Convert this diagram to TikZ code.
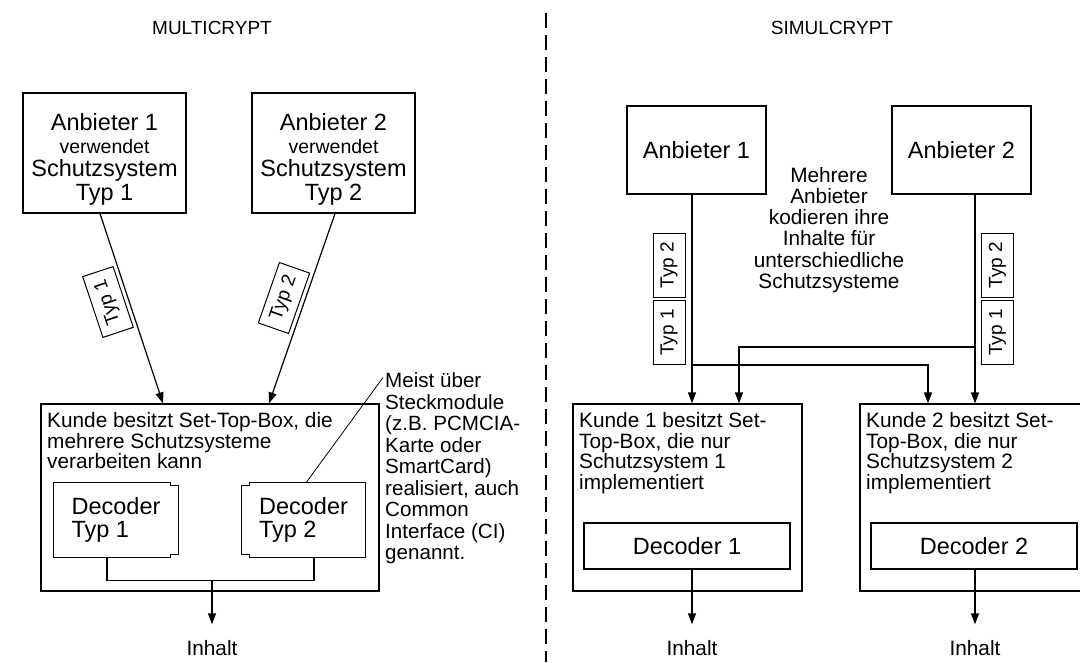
\documentclass[tikz,border=0pt]{standalone}
\usepackage{fontspec}
\setmainfont{Liberation Sans}
\usetikzlibrary{arrows.meta}
\newcommand\fBig{\fontsize{23.5}{23.3}\selectfont}
\newcommand\fVer{\fontsize{19.5}{23.3}\selectfont}
\newcommand\fMid{\fontsize{20.8}{20.8}\selectfont}
\newcommand\fMehr{\fontsize{20.8}{21.2}\selectfont}
\newcommand\fNote{\fontsize{20.6}{21.5}\selectfont}
\newcommand\fTyp{\fontsize{19}{20}\selectfont}
\newcommand\fTitle{\fontsize{19}{20}\selectfont}
\begin{document}
\begin{tikzpicture}[x=1pt,y=-1pt,
  box/.style={draw, line width=1.2pt, inner sep=0pt},
  arr/.style={line width=1.2pt, -{Triangle[length=11pt,width=8pt]}},
  wire/.style={line width=1.2pt},
  typbox/.style={draw, line width=1pt, inner sep=0pt, minimum width=64pt, minimum height=32pt, font=\fTyp},
  txt/.style={inner sep=0pt, align=left, font=\fMid},
]
\useasboundingbox (0,0) rectangle (1080,662);

% titles and divider
\node[inner sep=0pt, anchor=base, font=\fTitle] (tm) at (212,34) {MULTICRYPT};
\node[inner sep=0pt, anchor=base, font=\fTitle] (ts) at (832,34) {SIMULCRYPT};
\draw[line width=1.2pt, dash pattern=on 15pt off 7pt] (546,13) -- (546,662);

% ---------- MULTICRYPT ----------
\node[box, minimum width=163pt, minimum height=120pt] (a1) at (104.5,153) {};
\node[inner sep=0pt, align=center, font=\fBig] (a1t) at (104.5,159)
  {Anbieter 1\\{\fVer verwendet}\\Schutzsystem\\Typ 1};
\node[box, minimum width=163pt, minimum height=120pt] (a2) at (333.5,153) {};
\node[inner sep=0pt, align=center, font=\fBig] (a2t) at (333.5,159)
  {Anbieter 2\\{\fVer verwendet}\\Schutzsystem\\Typ 2};

\node[box, minimum width=338pt, minimum height=187pt] (kb) at (210,497.5) {};
\node[txt, anchor=north west] (kbt) at (47,412)
  {Kunde besitzt Set-Top-Box, die\\mehrere Schutzsysteme\\verarbeiten kann};

\node[inner sep=0pt, minimum width=124pt, minimum height=74pt, align=left, font=\fBig] (dt1) at (116,520) {Decoder\\Typ 1};
\draw[line width=1.2pt] (dt1.north west) -- ([xshift=-8pt]dt1.north east) -- ++(0,3)
  -- ([yshift=-3pt]dt1.north east) -- ([yshift=3pt]dt1.south east) -- ++(-8,0)
  -- ([xshift=-8pt]dt1.south east) -- (dt1.south west) -- cycle;
\node[inner sep=0pt, minimum width=123pt, minimum height=74pt, align=left, font=\fBig] (dt2) at (303.5,520) {Decoder\\Typ 2};
\draw[line width=1.2pt] (dt2.north east) -- ([xshift=8pt]dt2.north west) -- ++(0,3)
  -- ([yshift=-3pt]dt2.north west) -- ([yshift=3pt]dt2.south west) -- ++(8,0)
  -- ([xshift=8pt]dt2.south west) -- (dt2.south east) -- cycle;

\draw[arr] ([xshift=-4.5pt]a1.south) -- ([xshift=-47pt]kb.north);
\draw[arr] ([xshift=1.5pt]a2.south) -- ([xshift=59pt]kb.north);
\node[typbox, rotate=108.4] (ty1) at (108,302) {Typ 1};
\node[typbox, rotate=70.7] (ty2) at (284,298) {Typ 2};

\draw[wire] ([xshift=-9pt]dt1.south) -- ++(0,23) coordinate (jl) -| ([xshift=10.5pt]dt2.south);
\node[inner sep=0pt, anchor=base, font=\fMid] (il) at (212,655) {Inhalt};
\draw[arr] (jl -| il) -- ([yshift=15.4pt]il.north);

\node[txt, anchor=north west, font=\fNote] (note) at (385,372.5)
  {Meist über\\Steckmodule\\(z.B. PCMCIA-\\Karte oder\\SmartCard)\\realisiert, auch\\Common\\Interface (CI)\\genannt.};
\draw[line width=0.8pt] ([xshift=2.5pt]dt2.north) -- ([xshift=-2pt,yshift=-5pt]note.north west);

% ---------- SIMULCRYPT ----------
\node[box, minimum width=139pt, minimum height=88pt, font=\fBig] (a3) at (696.5,150) {Anbieter 1};
\node[box, minimum width=139pt, minimum height=88pt, font=\fBig] (a4) at (961.5,150) {Anbieter 2};
\node[inner sep=0pt, align=center, font=\fMehr] (mehr) at (829,230)
  {Mehrere\\Anbieter\\kodieren ihre\\Inhalte für\\unterschiedliche\\Schutzsysteme};

\node[box, minimum width=229pt, minimum height=187pt] (k1) at (687.5,497.5) {};
\node[txt, anchor=north west] (k1t) at (579,412)
  {Kunde 1 besitzt Set-\\Top-Box, die nur\\Schutzsystem 1\\implementiert};
\node[box, minimum width=229pt, minimum height=187pt] (k2) at (974.5,497.5) {};
\node[txt, anchor=north west] (k2t) at (866,412)
  {Kunde 2 besitzt Set-\\Top-Box, die nur\\Schutzsystem 2\\implementiert};
\node[box, minimum width=206pt, minimum height=46pt, font=\fBig] (d1) at (687,546) {Decoder 1};
\node[box, minimum width=206pt, minimum height=46pt, font=\fBig] (d2) at (974,546) {Decoder 2};

\coordinate (s3) at ([xshift=-4.5pt]a3.south);
\coordinate (s4) at ([xshift=13.5pt]a4.south);
\draw[arr] (s3) -- (s3 |- k1.north);
\draw[arr] (s4) -- (s4 |- k2.north);
\draw[arr] (s3 |- 0,365) -| ([xshift=-46.5pt]k2.north);
\draw[arr] (s4 |- 0,347) -| ([xshift=51.5pt]k1.north);

\node[typbox, rotate=90] (ty3) at (669,265) {Typ 2};
\node[typbox, rotate=90] (ty4) at (669,332.5) {Typ 1};
\node[typbox, rotate=90] (ty5) at (997.5,265) {Typ 2};
\node[typbox, rotate=90] (ty6) at (997.5,332.5) {Typ 1};

\node[inner sep=0pt, anchor=base, font=\fMid] (i1) at (692,655) {Inhalt};
\node[inner sep=0pt, anchor=base, font=\fMid] (i2) at (975,655) {Inhalt};
\draw[arr] (d1.south -| s3) -- ([yshift=15.4pt]i1.north);
\draw[arr] (d2.south -| s4) -- ([yshift=15.4pt]i2.north);
\end{tikzpicture}
\end{document}
